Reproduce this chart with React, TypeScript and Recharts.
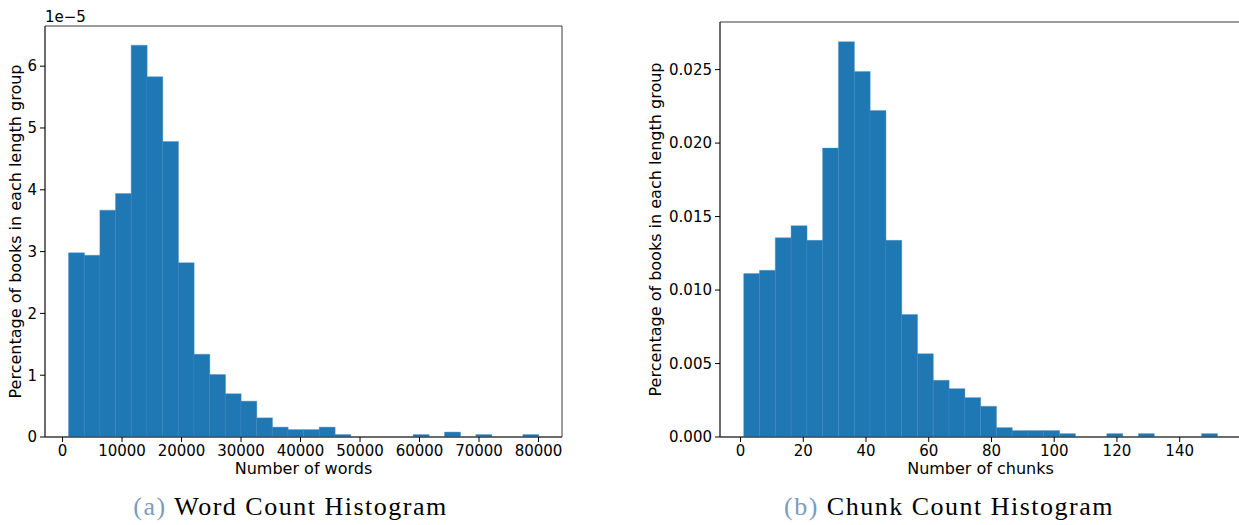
import React from 'react';
import { BarChart, Bar, XAxis, YAxis, ReferenceArea } from 'recharts';

// word count histogram: bin centres (words) and density in units of 1e-5
const wordBins = [
  2317, 4950, 7583, 10217, 12850, 15483, 18117, 20750, 23383, 26017,
  28650, 31283, 33917, 36550, 39183, 41817, 44450, 47083, 49717, 52350,
  54983, 57617, 60250, 62883, 65517, 68150, 70783, 73417, 76050, 78683,
];
const wordDensity = [
  2.98, 2.94, 3.67, 3.94, 6.34, 5.83, 4.78, 2.82, 1.34, 1.01,
  0.70, 0.58, 0.31, 0.16, 0.12, 0.12, 0.16, 0.04, 0, 0,
  0, 0, 0.04, 0, 0.08, 0, 0.04, 0, 0, 0.04,
];
const wordTicksX = [0, 10000, 20000, 30000, 40000, 50000, 60000, 70000, 80000];
const wordTicksY = [0, 1, 2, 3, 4, 5, 6];

// chunk count histogram
const chunkBins = [
  3.52, 8.55, 13.58, 18.62, 23.65, 28.68, 33.72, 38.75, 43.78, 48.82,
  53.85, 58.88, 63.92, 68.95, 73.98, 79.02, 84.05, 89.08, 94.12, 99.15,
  104.18, 109.22, 114.25, 119.28, 124.32, 129.35, 134.38, 139.42, 144.45, 149.48,
];
const chunkDensity = [
  0.01112, 0.01134, 0.01356, 0.01438, 0.01338, 0.01966, 0.0269, 0.02488, 0.02222, 0.01338,
  0.00833, 0.00567, 0.00386, 0.00329, 0.00268, 0.00209, 0.00064, 0.00044, 0.00044, 0.00044,
  0.00023, 0, 0, 0.00023, 0, 0.00023, 0, 0, 0, 0.00023,
];
const chunkTicksX = [0, 20, 40, 60, 80, 100, 120, 140];
const chunkTicksY = [0, 0.005, 0.01, 0.015, 0.02, 0.025];

const wordData = wordBins.map((x, i) => ({ x, y: wordDensity[i] }));
const chunkData = chunkBins.map((x, i) => ({ x, y: chunkDensity[i] }));

const FONT = '"DejaVu Sans", sans-serif';
const BLUE = '#1f77b4';
const SPINE = '#3a3a3a';
const tickStyle = { fill: '#000', fontSize: 15, fontFamily: FONT };
const labelStyle = { fill: '#000', fontSize: 16, fontFamily: FONT };
const yLabel = 'Percentage of books in each length group';

function Caption({ tag, text, center }: { tag: string; text: string; center: number }) {
  return (
    <div
      style={{
        position: 'absolute', left: center - 250, width: 500, top: 494, textAlign: 'center',
        fontFamily: '"Liberation Serif", serif', fontSize: 26, lineHeight: '26px', letterSpacing: 1.5,
        color: '#000', whiteSpace: 'nowrap',
      }}
    >
      <span style={{ color: '#7b9cbc' }}>{tag}</span> {text}
    </div>
  );
}

export default function App() {
  return (
    <div style={{ position: 'absolute', left: 0, top: 0, width: 1239, height: 525, overflow: 'hidden', background: '#fff' }}>
      <div style={{ position: 'absolute', left: 0, top: 0 }}>
        <BarChart width={580} height={490} data={wordData} margin={{ top: 26, right: 18, bottom: 0, left: 0 }} barCategoryGap={0}>
          <XAxis
            dataKey="x" type="number" domain={[-2950, 83950]} ticks={wordTicksX} allowDataOverflow
            height={53} tickSize={5} tickMargin={3} tick={tickStyle}
            axisLine={{ stroke: SPINE }} tickLine={{ stroke: '#000' }}
            label={{ value: 'Number of words', position: 'insideBottom', offset: 16, style: labelStyle }}
          />
          <YAxis
            type="number" domain={[0, 6.65]} ticks={wordTicksY} allowDataOverflow
            width={45} tickSize={5} tickMargin={3} tick={tickStyle}
            axisLine={{ stroke: SPINE }} tickLine={{ stroke: '#000' }}
            label={{ value: yLabel, angle: -90, position: 'insideLeft', offset: 15, style: { ...labelStyle, textAnchor: 'middle' } }}
          />
          <Bar dataKey="y" fill={BLUE} stroke="#4f8fc4" strokeWidth={0.4} isAnimationActive={false} />
          <ReferenceArea x1={-2950} x2={83950} y1={0} y2={6.65} fill="none" stroke={SPINE} strokeWidth={1} />
        </BarChart>
        <div style={{ position: 'absolute', left: 45, top: 10, fontFamily: FONT, fontSize: 15, lineHeight: '15px', color: '#000' }}>
          1e−5
        </div>
      </div>

      <div style={{ position: 'absolute', left: 620, top: 0 }}>
        <BarChart width={640} height={490} data={chunkData} margin={{ top: 22, right: 19, bottom: 0, left: 0 }} barCategoryGap={0}>
          <XAxis
            dataKey="x" type="number" domain={[-6.55, 159.55]} ticks={chunkTicksX} allowDataOverflow
            height={53} tickSize={5} tickMargin={3} tick={tickStyle}
            axisLine={{ stroke: SPINE }} tickLine={{ stroke: '#000' }}
            label={{ value: 'Number of chunks', position: 'insideBottom', offset: 16, style: labelStyle }}
          />
          <YAxis
            type="number" domain={[0, 0.02824]} ticks={chunkTicksY} allowDataOverflow
            width={100} tickSize={5} tickMargin={3} tick={tickStyle}
            tickFormatter={(v: number) => v.toFixed(3)}
            axisLine={{ stroke: SPINE }} tickLine={{ stroke: '#000' }}
            label={{ value: yLabel, angle: -90, position: 'insideLeft', offset: 35, style: { ...labelStyle, textAnchor: 'middle' } }}
          />
          <Bar dataKey="y" fill={BLUE} stroke="#4f8fc4" strokeWidth={0.4} isAnimationActive={false} />
          <ReferenceArea x1={-6.55} x2={159.55} y1={0} y2={0.02824} fill="none" stroke={SPINE} strokeWidth={1} />
        </BarChart>
      </div>

      <Caption tag="(a)" text="Word Count Histogram" center={290.5} />
      <Caption tag="(b)" text="Chunk Count Histogram" center={949} />
    </div>
  );
}
